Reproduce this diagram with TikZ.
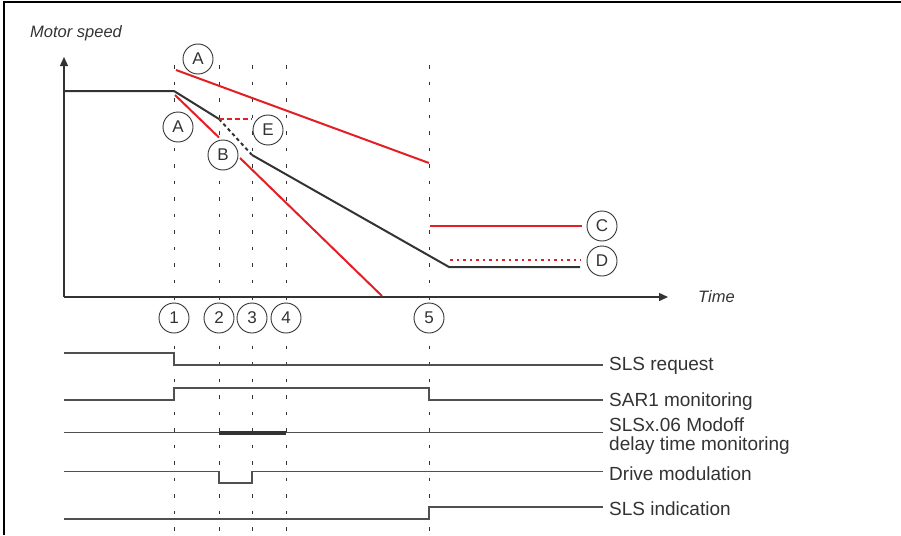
\documentclass[tikz,border=0pt]{standalone}
\usepackage{fontspec}
\setmainfont{Liberation Sans}
\usetikzlibrary{arrows.meta}
\definecolor{myred}{RGB}{227,30,36}
\definecolor{ink}{RGB}{51,51,51}
\definecolor{sig}{RGB}{80,80,80}
\begin{document}
\begin{tikzpicture}[x=1pt,y=-1pt,
  vline/.style={ink,line width=0.9pt,dash pattern=on 3.5pt off 13pt},
  speed/.style={ink,line width=2pt},
  redl/.style={myred,line width=2pt},
  sigl/.style={sig,line width=1.2pt},
  axisl/.style={ink,line width=1.4pt,-{Triangle[length=9pt,width=8pt]}},
  mark circ/.style={circle,draw=ink,line width=0.9pt,fill=white,minimum size=30pt,inner sep=0pt,font=\fontsize{17}{17}\selectfont,text=ink},
  ital/.style={font=\fontsize{16.5}{16.5}\selectfont\itshape,text=ink,inner sep=0pt},
  lab/.style={font=\fontsize{19}{19}\selectfont,text=ink,inner sep=0pt,anchor=base west}
]
\useasboundingbox (0,0) rectangle (901,535);
% frame
\draw[black,line width=1.2pt] (4,535) -- (4,2) -- (901,2);
% vertical time lines
\foreach \x/\n in {174/1,219/2,252/3,286/4,429/5}{
  \coordinate (vt\n) at (\x,65);
  \coordinate (vb\n) at (\x,535);
  \draw[vline] (vt\n) -- (vb\n);
}
% axes
\coordinate (O) at (64,297);
\coordinate (Y) at (64,57);
\coordinate (X) at (668,297);
\draw[axisl] (O) -- (Y);
\draw[axisl] (O) -- (X);
\node[ital,anchor=base west] (ms) at (30,37.5) {Motor speed};
\node[ital,anchor=base west] (tm) at (698,302) {Time};
% black speed curve
\coordinate (s0) at (64,91);
\coordinate (s1) at (174,91);
\coordinate (s2) at (219,119);
\coordinate (s3) at (252,155);
\coordinate (s4) at (449,267);
\coordinate (s5) at (580,267);
\draw[speed] (s0) -- (s1) -- (s2);
\draw[ink,line width=2pt,dash pattern=on 3.5pt off 3pt] (s2) -- (s3);
\draw[speed] (s3) -- (s4) -- (s5);
% red lines
\coordinate (ra1) at (176,70);
\coordinate (ra2) at (429,163);
\draw[redl] (ra1) -- (ra2);
\coordinate (rb1) at (175,95);
\coordinate (rb2) at (219,137.5);
\coordinate (rb3) at (240,158);
\coordinate (rb4) at (382,296);
\draw[redl] (rb1) -- (rb2);
\draw[redl] (rb3) -- (rb4);
\coordinate (re1) at (219,119);
\coordinate (re2) at (252,119);
\draw[myred,line width=2pt,dash pattern=on 5pt off 3pt] (re1) -- (re2);
\coordinate (rc1) at (430,226);
\coordinate (rc2) at (582,226);
\draw[redl] (rc1) -- (rc2);
\coordinate (rd1) at (450,260);
\coordinate (rd2) at (581,260);
\draw[myred,line width=2pt,dash pattern=on 2.5pt off 4pt] (rd1) -- (rd2);
% marker circles
\node[mark circ] (A1) at (198,59) {A};
\node[mark circ] (A2) at (178,127) {A};
\node[mark circ] (E) at (268,130) {E};
\node[mark circ] (B) at (223,155) {B};
\node[mark circ] (C) at (602,226) {C};
\node[mark circ] (D) at (602,261) {D};
\node[mark circ] (n1) at (174,318) {1};
\node[mark circ] (n2) at (219,318) {2};
\node[mark circ] (n3) at (252,318) {3};
\node[mark circ] (n4) at (286,318) {4};
\node[mark circ] (n5) at (429,318) {5};
% signals
\draw[sigl] (64,353) -- (174,353) -- (174,365) -- (603,365);
\draw[sigl] (64,400) -- (174,400) -- (174,388) -- (429,388) -- (429,400) -- (603,400);
\draw[sigl] (64,432.5) -- (603,432.5);
\draw[ink,line width=4pt] (219,432.5) -- (286,432.5);
\draw[sigl] (64,471.5) -- (219,471.5) -- (219,483) -- (252,483) -- (252,471.5) -- (603,471.5);
\draw[sigl] (64,519) -- (429,519) -- (429,507) -- (603,507);
% labels
\node[lab] (l1) at (609,370) {SLS request};
\node[lab] (l2) at (609,406.5) {SAR1 monitoring};
\node[lab,align=left] (l3) at (609,450) {SLSx.06 Modoff\\delay time monitoring};
\node[lab] (l4) at (609,480.5) {Drive modulation};
\node[lab] (l5) at (609,515) {SLS indication};
\end{tikzpicture}
\end{document}
